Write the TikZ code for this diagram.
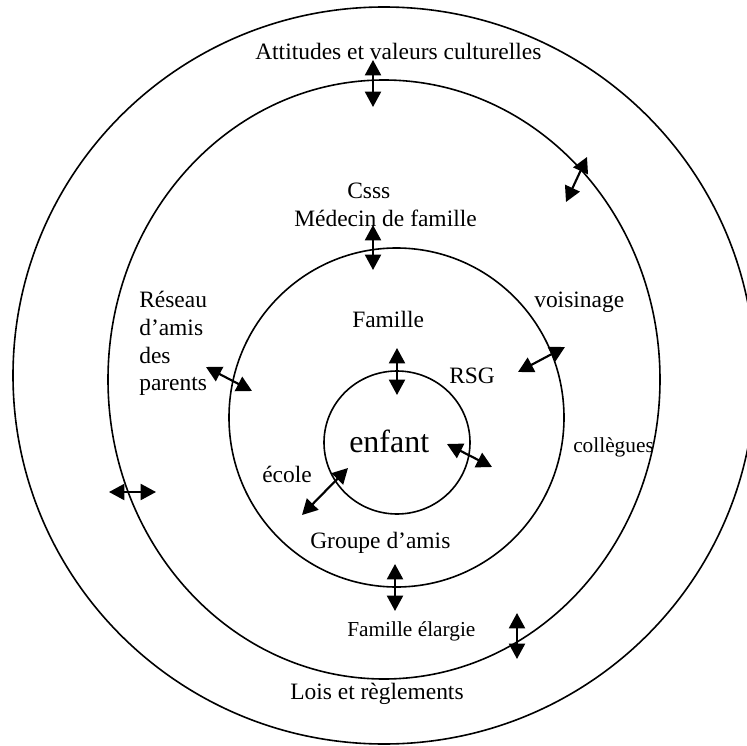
\documentclass[tikz,border=0pt]{standalone}
\usepackage{fontspec}
\setmainfont{Liberation Serif}
\usetikzlibrary{arrows.meta}
\begin{document}
\begin{tikzpicture}[x=0.75pt,y=-0.75pt,
  ring/.style={draw, line width=1.2pt},
  link/.style={{Triangle[length=11.5pt,width=12pt]}-{Triangle[length=11.5pt,width=12pt]}, line width=1.6pt},
  lbl/.style={anchor=base west, inner sep=0pt, font=\fontsize{17.6}{20}\selectfont},
  smalllbl/.style={anchor=base west, inner sep=0pt, font=\fontsize{16}{19}\selectfont},
  biglbl/.style={anchor=base west, inner sep=0pt, font=\fontsize{24}{28}\selectfont}]
\useasboundingbox (0,0) rectangle (747,746);
\clip (0,0) rectangle (747,746);
% rings
\draw[ring] (384,375.5) ellipse [x radius=371, y radius=368.5];
\draw[ring] (384,379.5) ellipse [x radius=276, y radius=299.5];
\draw[ring] (396.5,417.5) ellipse [x radius=167.5, y radius=169.5];
\draw[ring] (397,442.5) ellipse [x radius=73, y radius=71.5];
% labels
\node[lbl] (att) at (255,60) {Attitudes et valeurs culturelles};
\node[lbl] (csss) at (347,198) {Csss};
\node[lbl] (med) at (294,226) {Médecin de famille};
\node[lbl] (res1) at (139,307) {Réseau};
\node[lbl] (res2) at (139,335) {d’amis};
\node[lbl] (res3) at (139,363) {des};
\node[lbl] (res4) at (139,390) {parents};
\node[lbl] (fam) at (352,327) {Famille};
\node[lbl] (vois) at (534,307) {voisinage};
\node[lbl] (rsg) at (449,383) {RSG};
\node[biglbl] (enf) at (349,452) {enfant};
\node[smalllbl] (coll) at (573,452) {collègues};
\node[lbl] (ecole) at (262,482) {école};
\node[lbl] (grp) at (310,548) {Groupe d’amis};
\node[smalllbl] (fel) at (347,636) {Famille élargie};
\node[lbl] (lois) at (290,699) {Lois et règlements};
% arrow end points
\coordinate (a1) at (373,60);   \coordinate (b1) at (373,107);
\coordinate (a2) at (587,157);  \coordinate (b2) at (566,202);
\coordinate (a3) at (373,225);  \coordinate (b3) at (373,270);
\coordinate (a4) at (206,367);  \coordinate (b4) at (252,391);
\coordinate (a5) at (565,347);  \coordinate (b5) at (518,372);
\coordinate (a6) at (397,348);  \coordinate (b6) at (397,395);
\coordinate (a7) at (447,444);  \coordinate (b7) at (492,467);
\coordinate (a8) at (348,468);  \coordinate (b8) at (302,515);
\coordinate (a9) at (109,492);  \coordinate (b9) at (156,492);
\coordinate (a10) at (395,564); \coordinate (b10) at (395,611);
\coordinate (a11) at (517,613); \coordinate (b11) at (517,659);
% arrows
\draw[link] (a1) -- (b1);
\draw[link] (a2) -- (b2);
\draw[link] (a3) -- (b3);
\draw[link] (a4) -- (b4);
\draw[link] (a5) -- (b5);
\draw[link] (a6) -- (b6);
\draw[link] (a7) -- (b7);
\draw[link] (a8) -- (b8);
\draw[link] (a9) -- (b9);
\draw[link] (a10) -- (b10);
\draw[link] (a11) -- (b11);
\end{tikzpicture}
\end{document}
